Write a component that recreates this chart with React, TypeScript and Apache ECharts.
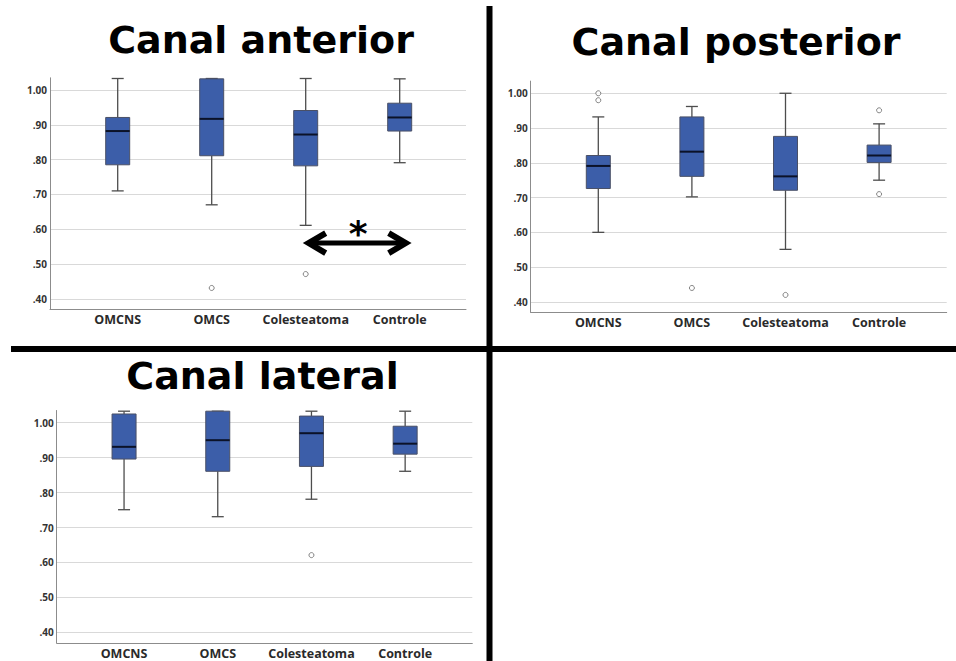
import React, { useEffect, useRef } from 'react';
import * as echarts from 'echarts';

const categories = ['OMCNS', 'OMCS', 'Colesteatoma', 'Controle'];
const yTickValues = [0.4, 0.5, 0.6, 0.7, 0.8, 0.9, 1.0];
const yMin = 0.37;
const yMax = 1.035;

// each box: [lower whisker, Q1, median, Q3, upper whisker]
const anteriorBoxes = [
  [0.71, 0.785, 0.882, 0.921, 1.033],
  [0.67, 0.811, 0.917, 1.032, 1.033],
  [0.611, 0.782, 0.872, 0.941, 1.033],
  [0.791, 0.882, 0.921, 0.962, 1.032],
];
const anteriorOutliers = [[1, 0.431], [2, 0.471]];

const posteriorBoxes = [
  [0.6, 0.726, 0.791, 0.821, 0.932],
  [0.702, 0.761, 0.832, 0.932, 0.962],
  [0.551, 0.721, 0.761, 0.876, 1.0],
  [0.75, 0.801, 0.821, 0.851, 0.912],
];
const posteriorOutliers = [[0, 1.0], [0, 0.98], [1, 0.44], [2, 0.42], [3, 0.951], [3, 0.71]];

const lateralBoxes = [
  [0.751, 0.896, 0.931, 1.025, 1.033],
  [0.731, 0.861, 0.95, 1.033, 1.033],
  [0.781, 0.875, 0.97, 1.019, 1.033],
  [0.861, 0.91, 0.94, 0.99, 1.033],
];
const lateralOutliers = [[2, 0.621]];

const panelTitles = ['Canal anterior', 'Canal posterior', 'Canal lateral'];
// significance arrow (anterior panel): Colesteatoma vs Controle
const arrowFrom = 2;
const arrowTo = 3;
const arrowValue = 0.56;

const panels = [
  { boxes: anteriorBoxes, outliers: anteriorOutliers, outer: { left: 50, width: 416, top: 77.8, height: 231.4 }, inner: { left: 70.7, width: 376 } },
  { boxes: posteriorBoxes, outliers: posteriorOutliers, outer: { left: 530.7, width: 416, top: 81.1, height: 231.2 }, inner: { left: 551.5, width: 374.4 } },
  { boxes: lateralBoxes, outliers: lateralOutliers, outer: { left: 56.7, width: 415.6, top: 410.5, height: 232.3 }, inner: { left: 77.2, width: 374.8 } },
];

const labelFont = '"Open Sans", "Noto Sans", sans-serif';

function fmtTick(v: number) {
  const s = v.toFixed(2);
  return s.startsWith('0') ? s.slice(1) : s;
}

export default function App() {
  const ref = useRef<HTMLDivElement>(null);
  useEffect(() => {
    document.body.style.margin = '0';
    const chart = echarts.init(ref.current!, undefined, { renderer: 'svg' });
    const grid: any[] = [];
    const xAxis: any[] = [];
    const yAxis: any[] = [];
    const series: any[] = [];
    panels.forEach((p, i) => {
      grid.push({ left: p.outer.left, width: p.outer.width, top: p.outer.top, height: p.outer.height, containLabel: false });
      grid.push({ left: p.inner.left, width: p.inner.width, top: p.outer.top, height: p.outer.height, containLabel: false });
      const go = 2 * i;
      const gi = 2 * i + 1;
      xAxis.push({
        type: 'value', gridIndex: go, min: 0, max: 1,
        axisLine: { show: true, onZero: false, lineStyle: { color: '#8c8c8c', width: 1 } },
        axisTick: { show: false }, axisLabel: { show: false }, splitLine: { show: false },
      });
      xAxis.push({
        type: 'category', gridIndex: gi, data: categories, boundaryGap: true,
        axisLine: { show: false }, axisTick: { show: false }, splitLine: { show: false },
        axisLabel: { color: '#2a2a2a', fontFamily: labelFont, fontWeight: 'bold', fontSize: 12.5, margin: 4, interval: 0 },
      });
      yAxis.push({
        type: 'value', gridIndex: go, min: yMin, max: yMax,
        axisLine: { show: true, onZero: false, lineStyle: { color: '#8c8c8c', width: 1 } },
        axisTick: { show: false, customValues: yTickValues },
        axisLabel: { customValues: yTickValues, formatter: (v: number) => fmtTick(v), color: '#333', fontFamily: labelFont, fontWeight: 'bold', fontSize: 10, margin: 3 },
        splitLine: { show: true, lineStyle: { color: '#d9d9d9', width: 1 } },
      });
      yAxis.push({
        type: 'value', gridIndex: gi, min: yMin, max: yMax, show: false,
        splitLine: { show: false },
      });
      series.push({
        type: 'custom',
        xAxisIndex: gi, yAxisIndex: gi,
        encode: { x: 0, y: [1, 2, 3, 4, 5] },
        data: p.boxes.map((b, k) => [k, ...b]),
        renderItem: (params: any, api: any) => {
          const x = api.value(0);
          const lo = api.coord([x, api.value(1)]);
          const q1 = api.coord([x, api.value(2)]);
          const med = api.coord([x, api.value(3)]);
          const q3 = api.coord([x, api.value(4)]);
          const hi = api.coord([x, api.value(5)]);
          const cx = lo[0];
          const hw = 12;
          const cap = 6;
          const ws = { stroke: '#4d4d4d', lineWidth: 1.3 };
          return {
            type: 'group',
            children: [
              { type: 'line', shape: { x1: cx, y1: hi[1], x2: cx, y2: q3[1] }, style: ws },
              { type: 'line', shape: { x1: cx, y1: q1[1], x2: cx, y2: lo[1] }, style: ws },
              { type: 'line', shape: { x1: cx - cap, y1: hi[1], x2: cx + cap, y2: hi[1] }, style: ws },
              { type: 'line', shape: { x1: cx - cap, y1: lo[1], x2: cx + cap, y2: lo[1] }, style: ws },
              { type: 'rect', shape: { x: cx - hw, y: q3[1], width: 2 * hw, height: q1[1] - q3[1] }, style: { fill: '#3c5ea9', stroke: '#4a5066', lineWidth: 1 } },
              { type: 'line', shape: { x1: cx - hw, y1: med[1], x2: cx + hw, y2: med[1] }, style: { stroke: '#0b1228', lineWidth: 2 } },
            ],
          };
        },
      });
      series.push({
        type: 'scatter',
        xAxisIndex: gi, yAxisIndex: gi,
        data: p.outliers,
        symbol: 'circle', symbolSize: 5,
        itemStyle: { color: '#fff', borderColor: '#666', borderWidth: 1 },
      });
    });

    chart.setOption({
      animation: false,
      backgroundColor: '#fff',
      grid, xAxis, yAxis, series,
    });

    const a = chart.convertToPixel({ xAxisIndex: 1, yAxisIndex: 1 } as any, [arrowFrom, arrowValue]) as number[];
    const b = chart.convertToPixel({ xAxisIndex: 1, yAxisIndex: 1 } as any, [arrowTo, arrowValue]) as number[];
    const x1 = a[0];
    const x2 = b[0] + 9;
    const ay = a[1];
    const headLen = 20;
    const headHalf = 10;
    const titleStyle = (text: string) => ({
      text,
      fontFamily: '"DejaVu Sans", sans-serif',
      fontWeight: 'bold',
      fontSize: 38,
      fill: '#000',
      align: 'center',
      verticalAlign: 'middle',
      textAlign: 'center',
      textVerticalAlign: 'middle',
    });

    chart.setOption({
      graphic: [
        { type: 'rect', shape: { x: 486.5, y: 6, width: 6, height: 660 }, style: { fill: '#000' } },
        { type: 'rect', shape: { x: 11, y: 346, width: 950, height: 6 }, style: { fill: '#000' } },
        { type: 'text', x: 261, y: 40, style: titleStyle(panelTitles[0]) },
        { type: 'text', x: 736, y: 42, style: titleStyle(panelTitles[1]) },
        { type: 'text', x: 262.5, y: 376, style: titleStyle(panelTitles[2]) },
        { type: 'line', shape: { x1: x1 + 3, y1: ay, x2: x2 - 3, y2: ay }, style: { stroke: '#000', lineWidth: 5 } },
        { type: 'polyline', shape: { points: [[x1 + headLen, ay - headHalf], [x1 + 3, ay], [x1 + headLen, ay + headHalf]] }, style: { stroke: '#000', lineWidth: 6, fill: null, lineJoin: 'miter' } },
        { type: 'polyline', shape: { points: [[x2 - headLen, ay - headHalf], [x2 - 3, ay], [x2 - headLen, ay + headHalf]] }, style: { stroke: '#000', lineWidth: 6, fill: null, lineJoin: 'miter' } },
        { type: 'text', x: (x1 + x2) / 2 + 1, y: ay - 10, style: { text: '*', fontFamily: '"DejaVu Sans", sans-serif', fontWeight: 'bold', fontSize: 36, fill: '#000', align: 'center', verticalAlign: 'middle', textAlign: 'center', textVerticalAlign: 'middle' } },
      ],
    });

    return () => chart.dispose();
  }, []);
  return <div ref={ref} style={{ position: 'absolute', left: 0, top: 0, width: 956, height: 661 }} />;
}
